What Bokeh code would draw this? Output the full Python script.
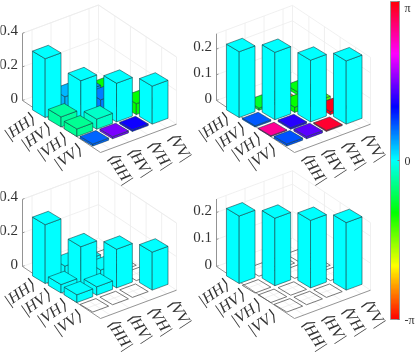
import colorsys
import math
from bokeh.core.properties import value
from bokeh.embed import file_html
from bokeh.models import ColorBar, ColumnDataSource, FixedTicker, LinearColorMapper, Range1d
from bokeh.plotting import figure
from bokeh.resources import INLINE

rows_left = ["|HH\u27e9", "|HV\u27e9", "|VH\u27e9", "|VV\u27e9"]
cols_bra = ["\u27e8HH|", "\u27e8HV|", "\u27e8VH|", "\u27e8VV|"]

amp_top_left = [[0.35, 0.08, 0.07, 0.035],
                [0.06, 0.232, 0.075, 0.025],
                [0.045, 0.06, 0.23, 0.065],
                [0.012, 0.012, 0.01, 0.226]]
phase_top_left = [[0, 0.30, 0.45, -1.05],
                  [-0.38, 0, 0.56, -1.83],
                  [-0.44, -0.21, 0, -1.05],
                  [0.65, 1.57, 1.12, 0]]
amp_top_right = [[0.256, 0.008, 0.004, 0.012],
                 [0.005, 0.262, 0.02, 0.012],
                 [0.003, 0.006, 0.24, 0.012],
                 [0.008, 0.008, 0.004, 0.246]]
phase_top_right = [[0, -0.87, -2.6, -0.96],
                   [0.70, 0, -1.05, -1.4],
                   [2.55, 1.22, 0, 3.05],
                   [0.72, 1.43, 2.95, 0]]
amp_bottom_left = [[0.35, 0.06, 0.05, 0],
                   [0.05, 0.232, 0.05, 0],
                   [0.046, 0.05, 0.23, 0],
                   [0, 0, 0, 0.226]]
phase_bottom_left = [[0] * 4 for _ in range(4)]
amp_bottom_right = [[0.25, 0, 0, 0],
                    [0, 0.25, 0, 0],
                    [0, 0, 0.25, 0],
                    [0, 0, 0, 0.25]]
phase_bottom_right = [[0] * 4 for _ in range(4)]

ticks_left = [0, 0.2, 0.4]
ticks_right = [0, 0.1, 0.2]
labels_left = ["0", "0.2", "0.4"]
labels_right = ["0", "0.1", "0.2"]

panels = [
    dict(amp=amp_top_left, phase=phase_top_left, dx=0, dy=0, zs=168, zlim=0.4, ticks=ticks_left, labels=labels_left),
    dict(amp=amp_top_right, phase=phase_top_right, dx=194, dy=0, zs=257, zlim=0.26, ticks=ticks_right, labels=labels_right),
    dict(amp=amp_bottom_left, phase=phase_bottom_left, dx=0, dy=166, zs=168, zlim=0.4, ticks=ticks_left, labels=labels_left),
    dict(amp=amp_bottom_right, phase=phase_bottom_right, dx=194, dy=166, zs=270, zlim=0.25, ticks=ticks_right, labels=labels_right),
]

# oblique projection of the 3-D box (pixels in the figure's data space)
L = (22, 100)
FRONT = (78, 52)
BACK = (76, -28.3)
U = (15.87, 9.5)
V = (19.8, -7.3)
C0 = (46.25, 110.3)
BAR = 0.8

palette = []
for k in range(256):
    r, g, b = colorsys.hsv_to_rgb(k / 256, 1, 1)
    palette.append("#%02x%02x%02x" % (round(r * 255), round(g * 255), round(b * 255)))
mapper = LinearColorMapper(palette=palette, low=-math.pi, high=math.pi)

p = figure(width=415, height=354, x_range=Range1d(0, 415), y_range=Range1d(354, 0),
           toolbar_location=None, output_backend="svg", min_border=0)
p.axis.visible = False
p.grid.visible = False
p.outline_line_color = None
p.styles = {"position": "fixed", "left": "0px", "top": "0px"}


def wall(s, t, pn):
    return (L[0] + pn["dx"] + s * FRONT[0] + t * BACK[0], L[1] + pn["dy"] + s * FRONT[1] + t * BACK[1])


def corner(i, j, a, b, z, pn):
    x = C0[0] + pn["dx"] + (i + a * BAR) * U[0] + (j + b * BAR) * V[0]
    y = C0[1] + pn["dy"] + (i + a * BAR) * U[1] + (j + b * BAR) * V[1] - z * pn["zs"]
    return x, y


for pn in panels:
    # grid lines on the two walls and the floor
    gx, gy = [], []
    H = pn["zlim"] * pn["zs"]
    s_ticks = [(k + 1) / 5 + 0.01 for k in range(4)]
    t_ticks = [(k + 0.5) / 4 for k in range(4)]
    for t in t_ticks:
        a, b = wall(0, t, pn), wall(1, t, pn)
        gx.append([a[0], b[0]]); gy.append([a[1], b[1]])
        gx.append([a[0], a[0]]); gy.append([a[1], a[1] - H])
    for s in s_ticks:
        a, b = wall(s, 0, pn), wall(s, 1, pn)
        gx.append([a[0], b[0]]); gy.append([a[1], b[1]])
        gx.append([b[0], b[0]]); gy.append([b[1], b[1] - H])
    for z in pn["ticks"] + [pn["zlim"]]:
        a, b, c = wall(0, 0, pn), wall(0, 1, pn), wall(1, 1, pn)
        d = z * pn["zs"]
        gx.append([a[0], b[0], c[0]]); gy.append([a[1] - d, b[1] - d, c[1] - d])
    a, b = wall(0, 1, pn), wall(1, 1, pn)
    gx.append([b[0], b[0]]); gy.append([b[1], b[1] - H])
    gx.append([a[0], a[0]]); gy.append([a[1], a[1] - H])
    p.multi_line(gx, gy, line_color="#ececec", line_width=0.8)

    # axis edges
    l0, f0, r0 = wall(0, 0, pn), wall(1, 0, pn), wall(1, 1, pn)
    ax_x = [[l0[0], l0[0]], [l0[0], f0[0], r0[0]]]
    ax_y = [[l0[1], l0[1] - H], [l0[1], f0[1], r0[1]]]
    for z in pn["ticks"]:
        d = z * pn["zs"]
        ax_x.append([l0[0], l0[0] + 2]); ax_y.append([l0[1] - d, l0[1] - d - 0.8])
    p.multi_line(ax_x, ax_y, line_color="#888888", line_width=0.9)

    # flat outlines for empty cells
    ex, ey = [], []
    for i in range(4):
        for j in range(4):
            if pn["amp"][i][j] == 0:
                pts = [corner(i, j, a, b, 0, pn) for a, b in [(-.5, -.5), (.5, -.5), (.5, .5), (-.5, .5)]]
                ex.append([q[0] for q in pts]); ey.append([q[1] for q in pts])
    if ex:
        p.patches(ex, ey, fill_color=None, line_color="#555555", line_width=0.8)

    # bars, back to front
    xs, ys, ph = [], [], []
    cells = sorted(((i, j) for i in range(4) for j in range(4)), key=lambda c: c[0] - c[1])
    for i, j in cells:
        z = pn["amp"][i][j]
        if z == 0:
            continue
        phase = pn["phase"][i][j]
        faces = [
            [(-.5, -.5, 0), (.5, -.5, 0), (.5, -.5, z), (-.5, -.5, z)],
            [(.5, -.5, 0), (.5, .5, 0), (.5, .5, z), (.5, -.5, z)],
            [(-.5, -.5, z), (.5, -.5, z), (.5, .5, z), (-.5, .5, z)],
        ]
        for face in faces:
            pts = [corner(i, j, a, b, h, pn) for a, b, h in face]
            xs.append([q[0] for q in pts]); ys.append([q[1] for q in pts]); ph.append(phase)
    src = ColumnDataSource(dict(xs=xs, ys=ys, phase=ph))
    p.patches("xs", "ys", source=src, fill_color={"field": "phase", "transform": mapper},
              line_color="#123c40", line_alpha=0.7, line_width=0.8)

    # tick labels
    p.text([l0[0] - 4.5] * 3, [l0[1] - z * pn["zs"] - 3 for z in pn["ticks"]], text=pn["labels"],
           text_font=value("Liberation Serif"), text_font_size="15px", text_color="#333333",
           text_align="right", text_baseline="middle")
    p.text([19 + pn["dx"] + k * 16 for k in range(4)], [126 + pn["dy"] + k * 10 for k in range(4)],
           text=rows_left, angle=35, angle_units="deg", text_font=value("Liberation Serif"),
           text_font_style="italic", text_font_size="16px", text_color="#333333",
           text_align="center", text_baseline="middle")
    p.text([120 + pn["dx"] + k * V[0] for k in range(4)], [168 + pn["dy"] + k * V[1] for k in range(4)],
           text=cols_bra, angle=-57, angle_units="deg", text_font=value("Liberation Serif"),
           text_font_style="italic", text_font_size="16px", text_color="#333333",
           text_align="center", text_baseline="middle")

bar = ColorBar(color_mapper=mapper, width=9, height=318, location=(390, 35), padding=0, margin=0,
               ticker=FixedTicker(ticks=[-math.pi, 0, math.pi]),
               major_label_overrides={-math.pi: "-\u03c0", 0: "0", math.pi: "\u03c0"},
               major_label_text_font="Liberation Serif", major_label_text_font_size="12px",
               major_label_text_color="#333333", major_tick_line_color="#777777", major_tick_in=2,
               bar_line_color="#999999", background_fill_alpha=0, border_line_color=None, label_standoff=5)
p.add_layout(bar, "center")

open("out.html", "w").write(file_html(p, INLINE))
